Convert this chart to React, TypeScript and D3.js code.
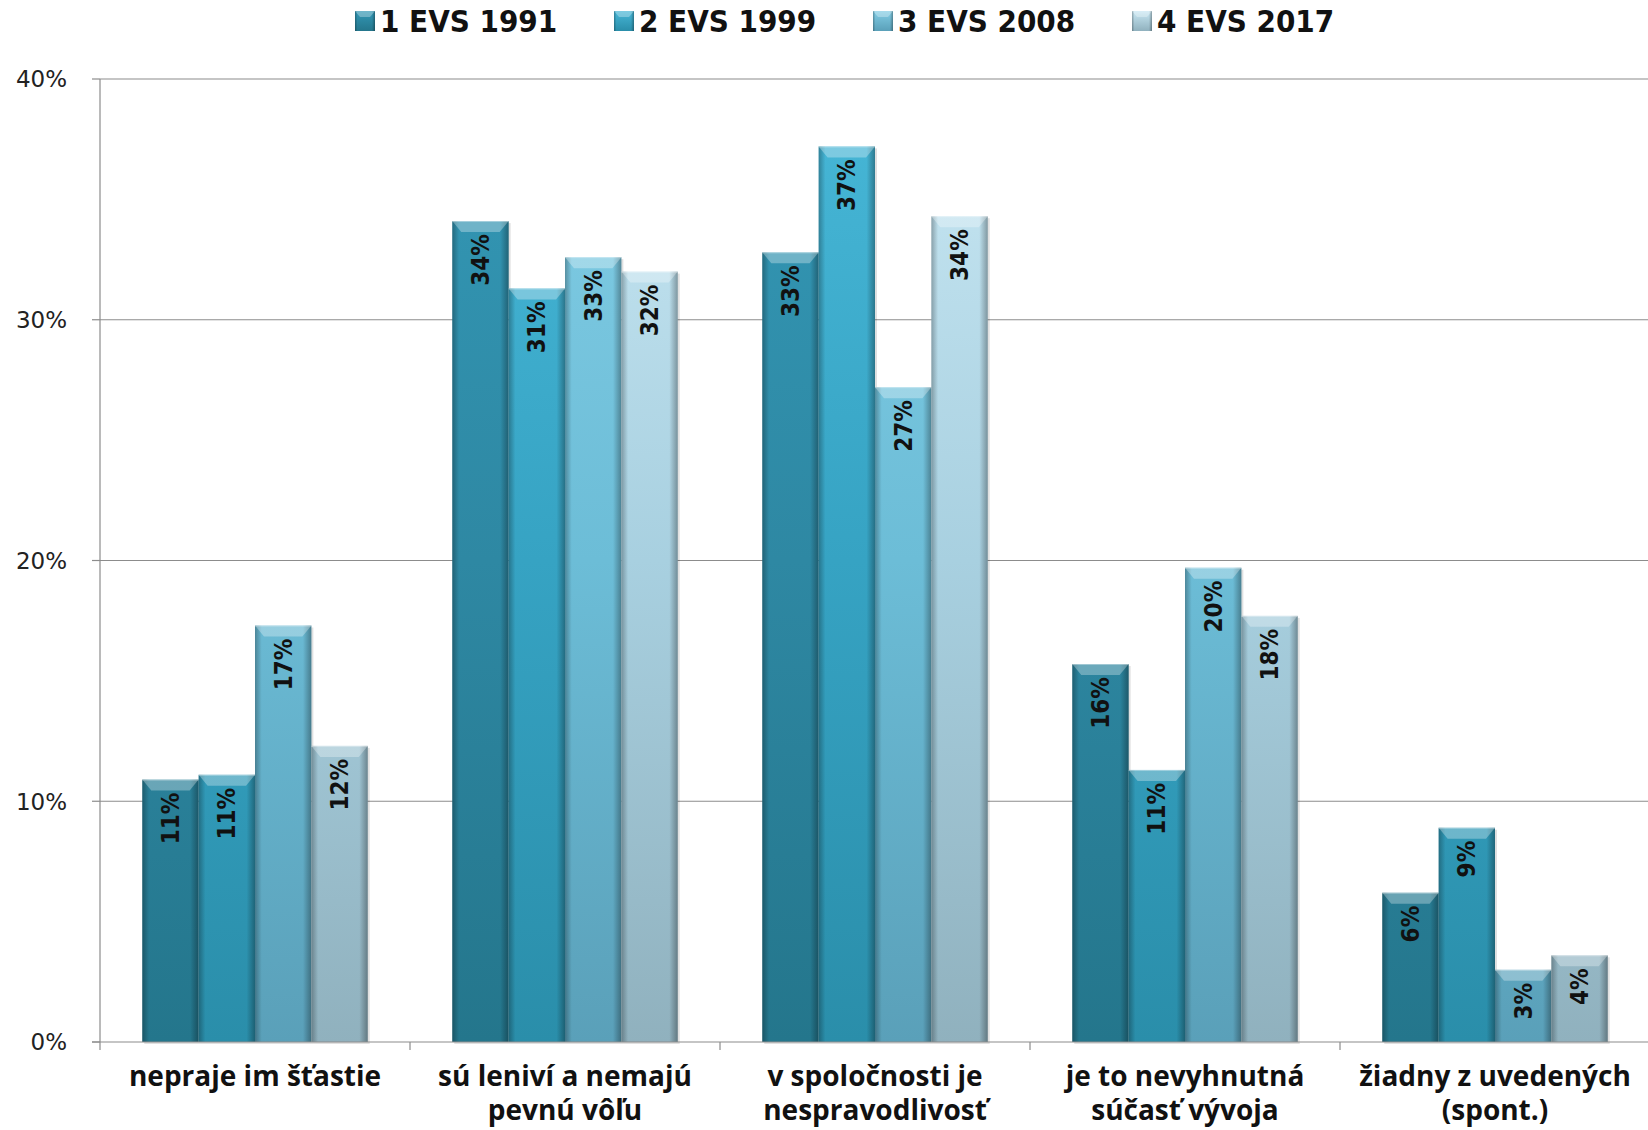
import React from "react";
import * as d3 from "d3";

const categories: string[][] = [
  ["nepraje im šťastie"],
  ["sú leniví a nemajú", "pevnú vôľu"],
  ["v spoločnosti je", "nespravodlivosť"],
  ["je to nevyhnutná", "súčasť vývoja"],
  ["žiadny z uvedených", "(spont.)"],
];
const seriesNames = ["1 EVS 1991", "2 EVS 1999", "3 EVS 2008", "4 EVS 2017"];
const evs1991 = [10.9, 34.1, 32.8, 15.7, 6.2];
const evs1999 = [11.1, 31.3, 37.2, 11.3, 8.9];
const evs2008 = [17.3, 32.6, 27.2, 19.7, 3.0];
const evs2017 = [12.3, 32.0, 34.3, 17.7, 3.6];
const seriesValues = [evs1991, evs1999, evs2008, evs2017];
const yTicks = [0, 10, 20, 30, 40];

const seriesColors = [
  { top: "#3398b6", mid: "#2e88a3", bot: "#24768c" },
  { top: "#47b7d7", mid: "#36a3c3", bot: "#2a8eaa" },
  { top: "#82cde5", mid: "#6cbdd7", bot: "#5aa0b9" },
  { top: "#c8e7f3", mid: "#a8d0e0", bot: "#90b1be" },
];

const W = 1648;
const H = 1130;
const plotLeft = 100;
const plotRight = 1650;
const plotTop = 79;
const plotBottom = 1042;

export default function App() {
  const x0 = d3
    .scaleBand<number>()
    .domain(d3.range(categories.length))
    .range([plotLeft, plotRight])
    .paddingInner(1.5 / 5.5)
    .paddingOuter(0.75 / 5.5);
  const x1 = d3
    .scaleBand<number>()
    .domain(d3.range(seriesNames.length))
    .range([0, x0.bandwidth()])
    .padding(0);
  const y = d3.scaleLinear().domain([0, 40]).range([plotBottom, plotTop]);
  const step = x0.step();
  const catTicks = d3.range(categories.length + 1).map((i) => plotLeft + i * step);

  const labelFont = "'DejaVu Sans Condensed', 'DejaVu Sans', sans-serif";

  return (
    <svg width={W} height={H} style={{ display: "block", position: "absolute", left: 0, top: 0 }}>
      <defs>
        {seriesColors.map((c, i) => (
          <linearGradient key={i} id={`g${i}`} gradientUnits="userSpaceOnUse" x1="0" y1={plotTop} x2="0" y2={plotBottom}>
            <stop offset="0" stopColor={c.top} />
            <stop offset="0.5" stopColor={c.mid} />
            <stop offset="1" stopColor={c.bot} />
          </linearGradient>
        ))}
        {seriesColors.map((c, i) => (
          <linearGradient key={`l${i}`} id={`lg${i}`} x1="0" y1="0" x2="0" y2="1">
            <stop offset="0" stopColor={c.top} />
            <stop offset="1" stopColor={c.bot} />
          </linearGradient>
        ))}
        <linearGradient id="edge" x1="0" y1="0" x2="1" y2="0">
          <stop offset="0" stopColor="#000" stopOpacity="0.28" />
          <stop offset="0.12" stopColor="#000" stopOpacity="0.0" />
          <stop offset="0.85" stopColor="#000" stopOpacity="0.0" />
          <stop offset="1" stopColor="#000" stopOpacity="0.32" />
        </linearGradient>
      </defs>
      <rect width={W} height={H} fill="#fff" />

      {/* gridlines */}
      {yTicks.slice(1).map((t) => (
        <line key={t} x1={plotLeft} x2={W} y1={y(t)} y2={y(t)} stroke="#8c8c8c" strokeWidth={1.2} />
      ))}
      {/* y axis */}
      <line x1={plotLeft} x2={plotLeft} y1={plotTop} y2={plotBottom} stroke="#8c8c8c" strokeWidth={1.2} />
      {yTicks.map((t) => (
        <g key={`yt${t}`}>
          <line x1={plotLeft - 8} x2={plotLeft} y1={y(t)} y2={y(t)} stroke="#8c8c8c" strokeWidth={1.2} />
          <text
            x={67}
            y={y(t)}
            dy="0.36em"
            textAnchor="end"
            fontFamily="'DejaVu Sans', sans-serif"
            fontSize={23}
            fill="#222"
          >
            {`${t}%`}
          </text>
        </g>
      ))}

      {/* bars */}
      {categories.map((_, ci) => (
        <g key={`c${ci}`} transform={`translate(${x0(ci)},0)`}>
          {seriesValues.map((vals, si) => {
            const v = vals[ci];
            const bx = x1(si)!;
            const bw = x1.bandwidth();
            const top = y(v);
            const h = plotBottom - top;
            const bev = Math.min(11, h / 2);
            return (
              <g key={`b${si}`}>
                <rect x={bx + 2} y={top + 2} width={bw} height={h} fill="#000" opacity={0.12} />
                <rect x={bx} y={top} width={bw} height={h} fill={`url(#g${si})`} />
                <rect x={bx} y={top} width={bw} height={h} fill="url(#edge)" />
                <polygon
                  points={`${bx},${top} ${bx + bw},${top} ${bx + bw - 9},${top + bev} ${bx + 9},${top + bev}`}
                  fill="#fff"
                  opacity={0.3}
                />
                <line x1={bx} x2={bx + bw} y1={top + 0.5} y2={top + 0.5} stroke="#fff" strokeOpacity={0.35} />
              </g>
            );
          })}
          {seriesValues.map((vals, si) => {
            const v = vals[ci];
            const cx = x1(si)! + x1.bandwidth() / 2;
            const ty = y(v) + 13;
            return (
              <text
                key={`t${si}`}
                transform={`translate(${cx},${ty}) rotate(-90)`}
                textAnchor="end"
                dy="0.36em"
                fontFamily={labelFont}
                fontWeight="bold"
                fontSize={24}
                fill="#111"
              >
                {`${Math.round(v)}%`}
              </text>
            );
          })}
        </g>
      ))}

      {/* x axis */}
      <line x1={plotLeft - 8} x2={W} y1={plotBottom} y2={plotBottom} stroke="#8c8c8c" strokeWidth={1.2} />
      {catTicks.map((t, i) => (
        <line key={`xt${i}`} x1={t} x2={t} y1={plotBottom} y2={plotBottom + 8} stroke="#8c8c8c" strokeWidth={1.2} />
      ))}
      {categories.map((lines, ci) => (
        <text
          key={`cl${ci}`}
          x={x0(ci)! + x0.bandwidth() / 2}
          y={1086}
          textAnchor="middle"
          fontFamily="'Open Sans', sans-serif"
          fontWeight="bold"
          fontSize={28}
          fill="#111"
        >
          {lines.map((l, li) => (
            <tspan key={li} x={x0(ci)! + x0.bandwidth() / 2} dy={li === 0 ? 0 : 34}>
              {l}
            </tspan>
          ))}
        </text>
      ))}

      {/* legend */}
      {seriesNames.map((name, i) => {
        const lx = 355 + i * 259;
        return (
          <g key={`lg${i}`}>
            <rect x={lx} y={11} width={20} height={20} fill={`url(#lg${i})`} />
            <rect x={lx} y={11} width={20} height={20} fill="url(#edge)" />
            <polygon points={`${lx},11 ${lx + 20},11 ${lx + 15},17 ${lx + 5},17`} fill="#fff" opacity={0.3} />
            <text
              x={lx + 25}
              y={32}
              fontFamily={labelFont}
              fontWeight="bold"
              fontSize={31}
              fill="#111"
            >
              {name}
            </text>
          </g>
        );
      })}
    </svg>
  );
}
